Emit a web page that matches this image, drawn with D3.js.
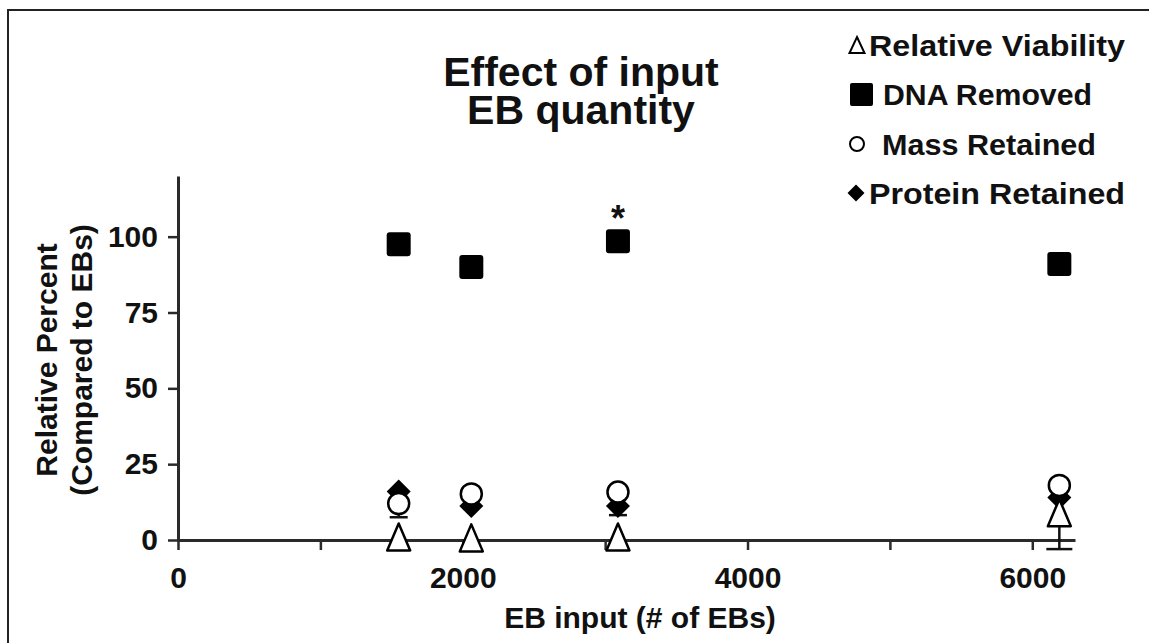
<!DOCTYPE html>
<html><head><meta charset="utf-8">
<script src="https://cdn.jsdelivr.net/npm/d3@7"></script>
<style>
html,body{margin:0;padding:0;background:#fff;}
text{font-family:Arial,"Liberation Sans",sans-serif;font-weight:bold;fill:#111;}
</style></head>
<body>
<svg id="c" width="1149" height="643"></svg>
<script>
// ---- data ----
const ebInput = [1550, 2060, 3090, 6190];
const viability = [1, 0.7, 1, 9];
const dnaRemoved = [97.5, 90, 98.5, 91];
const massRetained = [12, 15.2, 15.8, 18];
const proteinRetained = [16, 11.2, 11.2, 14];
// error bars (lower, upper) per point
const errViabilityLow = [0, 0, 0, 12];
const errViabilityHigh = [0, 0, 0, 0];
const errMassLow = [4.5, 0, 0, 0];
const errMassHigh = [0, 0, 0, 0];
const errProteinLow = [0, 0, 3, 0];
const errProteinHigh = [0, 0, 0, 0];
const xTicks = [0, 1000, 2000, 3000, 4000, 5000, 6000];
const xTickLabels = ["0", "", "2000", "", "4000", "", "6000"];
const yTicks = [0, 25, 50, 75, 100];
const legendLabels = ["Relative Viability", "DNA Removed", "Mass Retained", "Protein Retained"];
const titleLines = ["Effect of input", "EB quantity"];
const yTitleLines = ["Relative Percent", "(Compared to EBs)"];
const xTitle = "EB input (# of EBs)";
const sigIndex = 2; // asterisk over DNA removed

const svg = d3.select("#c");
svg.append("rect").attr("x", 8).attr("y", 10).attr("width", 1160).attr("height", 660)
  .attr("fill", "none").attr("stroke", "#222").attr("stroke-width", 2);

const x = d3.scaleLinear().domain([0, 6300]).range([178, 1075]);
const y = d3.scaleLinear().domain([0, 120]).range([540, 176]);

const axisColor = "#2a2a2a";
const gy = svg.append("g").attr("transform", `translate(${x(0)},0)`)
  .call(d3.axisLeft(y).tickValues(yTicks).tickSize(10).tickSizeOuter(0).tickPadding(10));
const gx = svg.append("g").attr("transform", `translate(0,${y(0)})`)
  .call(d3.axisBottom(x).tickValues(xTicks).tickSize(10).tickSizeOuter(0).tickPadding(17)
    .tickFormat((d, i) => xTickLabels[i]));
[gx, gy].forEach(g => {
  g.select(".domain").attr("stroke", axisColor).attr("stroke-width", 3);
  g.selectAll(".tick line").attr("stroke", axisColor).attr("stroke-width", 2.5);
  g.selectAll(".tick text").attr("font-size", 30).attr("fill", "#111")
    .attr("font-family", "Arial, 'Liberation Sans', sans-serif").attr("font-weight", "bold");
});

function triPath(w, h) { return `M0,${-h/2}L${w/2},${h/2}L${-w/2},${h/2}Z`; }
function diaPath(s) { return `M0,${-s}L${s},0L0,${s}L${-s},0Z`; }

const pts = ebInput.map((v, i) => ({x: v, i}));

function errBars(vals, lo, hi, capW) {
  pts.forEach(p => {
    const i = p.i, cx = x(p.x), yc = y(vals[i]);
    [[lo[i], -1], [hi[i], 1]].forEach(([e, s]) => {
      if (!e) return;
      const ye = y(vals[i] + s * e);
      svg.append("line").attr("x1", cx).attr("x2", cx).attr("y1", yc).attr("y2", ye)
        .attr("stroke", "#111").attr("stroke-width", 2.5);
      svg.append("line").attr("x1", cx - capW/2).attr("x2", cx + capW/2)
        .attr("y1", ye).attr("y2", ye).attr("stroke", "#111").attr("stroke-width", 2.5);
    });
  });
}
errBars(viability, errViabilityLow, errViabilityHigh, 26);
errBars(massRetained, errMassLow, errMassHigh, 18);
errBars(proteinRetained, errProteinLow, errProteinHigh, 18);

svg.append("g").selectAll("path").data(pts).join("path")
  .attr("d", diaPath(12)).attr("transform", d => `translate(${x(d.x)},${y(proteinRetained[d.i])})`)
  .attr("fill", "#000");
svg.append("g").selectAll("circle").data(pts).join("circle")
  .attr("cx", d => x(d.x)).attr("cy", d => y(massRetained[d.i])).attr("r", 10.5)
  .attr("fill", "#fff").attr("stroke", "#000").attr("stroke-width", 2.5);
svg.append("g").selectAll("path").data(pts).join("path")
  .attr("d", triPath(23, 27)).attr("transform", d => `translate(${x(d.x)},${y(viability[d.i])})`)
  .attr("fill", "#fff").attr("stroke", "#000").attr("stroke-width", 2.5).attr("stroke-linejoin", "round");
svg.append("g").selectAll("rect").data(pts).join("rect")
  .attr("x", d => x(d.x) - 12).attr("y", d => y(dnaRemoved[d.i]) - 12)
  .attr("width", 24).attr("height", 24).attr("rx", 3).attr("fill", "#000");
svg.append("text").attr("x", x(ebInput[sigIndex])).attr("y", y(dnaRemoved[sigIndex]) - 10)
  .attr("text-anchor", "middle").attr("font-size", 36).text("*");

// title
svg.append("g").selectAll("text").data(titleLines).join("text")
  .attr("x", 581).attr("y", (d, i) => 86 + i * 38).attr("text-anchor", "middle")
  .attr("font-size", 41).text(d => d);

// y title
svg.append("g").selectAll("text").data(yTitleLines).join("text")
  .attr("transform", (d, i) => `translate(${57 + i * 35},360) rotate(-90)`)
  .attr("text-anchor", "middle").attr("font-size", 30).text(d => d);

// x title
svg.append("text").attr("x", 640).attr("y", 628).attr("text-anchor", "middle")
  .attr("font-size", 30).text(xTitle);

// legend
const lg = svg.append("g");
const rowY = [45, 94, 144, 193];
const textX = [869, 883, 882, 869];
const textW = [256, 209, 214, 256];
legendLabels.forEach((lab, i) => {
  const cy = rowY[i];
  if (i === 0) lg.append("path").attr("d", triPath(15, 16)).attr("transform", `translate(857,${cy})`)
    .attr("fill", "#fff").attr("stroke", "#000").attr("stroke-width", 2);
  if (i === 1) lg.append("rect").attr("x", 850).attr("y", cy - 11).attr("width", 23).attr("height", 23)
    .attr("rx", 2).attr("fill", "#000");
  if (i === 2) lg.append("circle").attr("cx", 857).attr("cy", cy).attr("r", 7)
    .attr("fill", "#fff").attr("stroke", "#000").attr("stroke-width", 2);
  if (i === 3) lg.append("path").attr("d", diaPath(8.5)).attr("transform", `translate(856,${cy})`)
    .attr("fill", "#000");
  lg.append("text").attr("x", textX[i]).attr("y", cy + 10.5).attr("font-size", 29)
    .attr("textLength", textW[i]).attr("lengthAdjust", "spacingAndGlyphs").text(lab);
});
</script>
</body></html>
